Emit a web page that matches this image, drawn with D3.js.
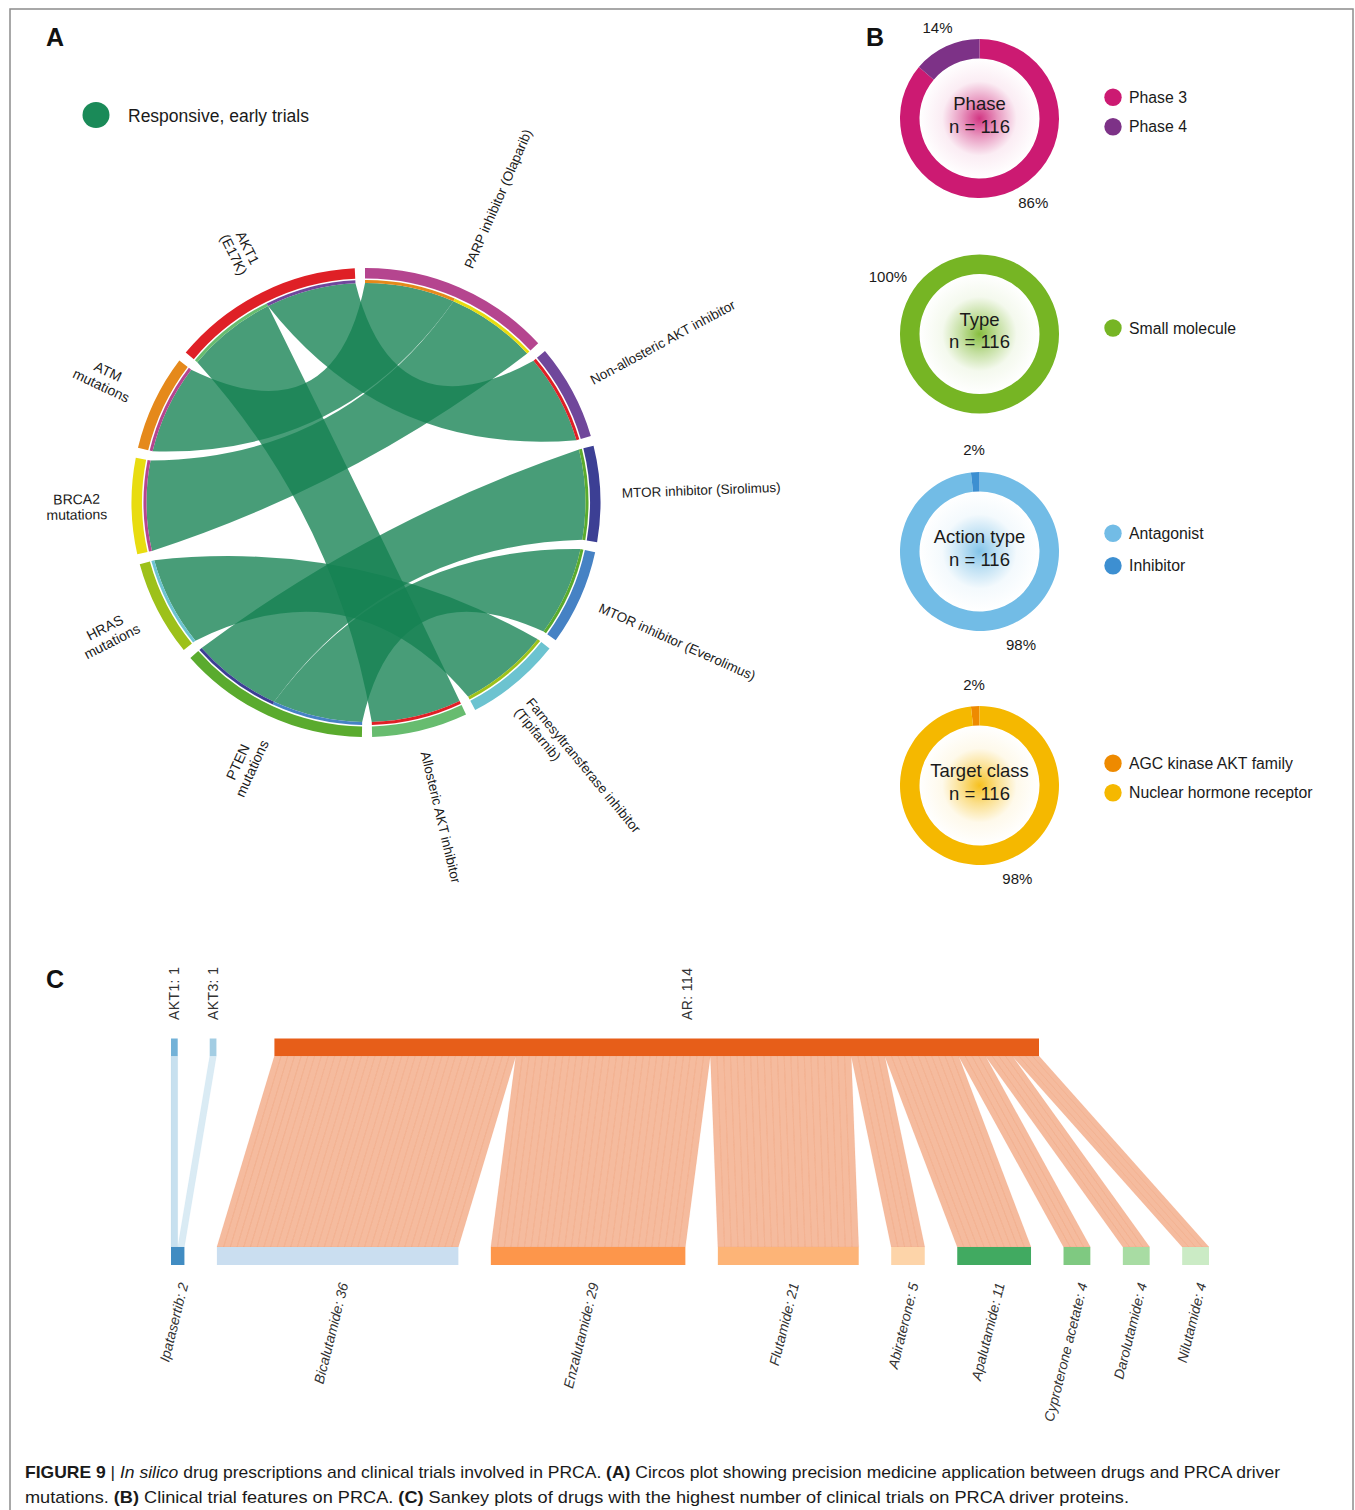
<!DOCTYPE html>
<html>
<head>
<meta charset="utf-8">
<title>Figure 9 – drug prescriptions and clinical trials in PRCA</title>
<script src="https://cdn.jsdelivr.net/npm/d3@7/dist/d3.min.js"></script>
<style>
  html, body { margin: 0; padding: 0; background: #fff; }
  svg { display: block; font-family: "Liberation Sans", Arial, Helvetica, sans-serif; }
</style>
</head>
<body>
<svg id="figure" width="1355" height="1510"></svg>
<script>
// ---------------- Panel A: drug ↔ driver-mutation circos ----------------
const drugs = [
  "PARP inhibitor (Olaparib)",
  "Non-allosteric AKT inhibitor",
  "MTOR inhibitor (Sirolimus)",
  "MTOR inhibitor (Everolimus)",
  "Farnesyltransferase inhibitor (Tipifarnib)",
  "Allosteric AKT inhibitor"
];
const mutations = ["PTEN mutations", "HRAS mutations", "BRCA2 mutations", "ATM mutations", "AKT1 (E17K)"];
const drugMutationPairs = [
  ["PARP inhibitor (Olaparib)", "ATM mutations"],
  ["PARP inhibitor (Olaparib)", "BRCA2 mutations"],
  ["Non-allosteric AKT inhibitor", "AKT1 (E17K)"],
  ["MTOR inhibitor (Sirolimus)", "PTEN mutations"],
  ["MTOR inhibitor (Everolimus)", "PTEN mutations"],
  ["Farnesyltransferase inhibitor (Tipifarnib)", "HRAS mutations"],
  ["Allosteric AKT inhibitor", "AKT1 (E17K)"]
];
const circosLegend = ["Responsive, early trials"];

// ---------------- Panel B: clinical trial features ----------------
const phaseLabels = ["Phase 3", "Phase 4"];
const phaseCounts = [100, 16];
const typeLabels = ["Small molecule"];
const typeCounts = [116];
const actionLabels = ["Antagonist", "Inhibitor"];
const actionCounts = [114, 2];
const targetLabels = ["AGC kinase AKT family", "Nuclear hormone receptor"];
const targetCounts = [2, 114];

// ---------------- Panel C: protein → drug trials (Sankey) ----------------
const proteins = ["AKT1", "AKT3", "AR"];
const sankeyDrugs = ["Ipatasertib", "Bicalutamide", "Enzalutamide", "Flutamide", "Abiraterone",
                     "Apalutamide", "Cyproterone acetate", "Darolutamide", "Nilutamide"];
const proteinDrugTrials = [
  ["AKT1", "Ipatasertib", 1],
  ["AKT3", "Ipatasertib", 1],
  ["AR", "Bicalutamide", 36],
  ["AR", "Enzalutamide", 29],
  ["AR", "Flutamide", 21],
  ["AR", "Abiraterone", 5],
  ["AR", "Apalutamide", 11],
  ["AR", "Cyproterone acetate", 4],
  ["AR", "Darolutamide", 4],
  ["AR", "Nilutamide", 4]
];

// ---------------- Styles ----------------
const drugColors = ["#b5458f", "#70479b", "#3c3f94", "#4682c4", "#6cc3d0", "#67bc6f"];
const mutationColors = ["#5aab2e", "#9dc11a", "#e8dc10", "#e5891b", "#df2026"];
const ribbonColor = "#148152";
const phaseColors = ["#cc1a72", "#7d3287"];
const typeColors = ["#76b524"];
const actionColors = ["#72bce6", "#3d8fd1"];
const targetColors = ["#ee8a00", "#f5b800"];
const sankeyColors = {
  "Ipatasertib": "#3182bd", "AKT1": "#6baed6", "AKT3": "#9ecae1", "Bicalutamide": "#c6dbef",
  "AR": "#e6550d", "Enzalutamide": "#fd8d3c", "Flutamide": "#fdae6b", "Abiraterone": "#fdd0a2",
  "Apalutamide": "#31a354", "Cyproterone acetate": "#74c476", "Darolutamide": "#a1d99b", "Nilutamide": "#c7e9c0"
};
const textColor = "#1a1a1a";

const svg = d3.select("#figure");
svg.append("rect").attr("width", 1355).attr("height", 1510).attr("fill", "#fff");
svg.append("rect").attr("x", 10).attr("y", 9).attr("width", 1343).attr("height", 1540)
  .attr("fill", "none").attr("stroke", "#8c8c8c").attr("stroke-width", 1.5);

function panelLetter(x, y, t) {
  svg.append("text").attr("x", x).attr("y", y).attr("font-size", 25).attr("font-weight", "bold")
    .attr("fill", "#111").text(t);
}
panelLetter(46, 46, "A");
panelLetter(866, 46, "B");
panelLetter(46, 988, "C");

// =====================================================================
// Panel A – circos
// =====================================================================
const deg = Math.PI / 180;
const A = { cx: 366, cy: 502.5, rOuter: 234.5, rInner: 224, stripOuter: 222.5, stripInner: 219.5,
            ribbonR: 219.5, bend: 0.36, padDeg: 2.5, startDeg: -0.25,
            drugLabelR: 256, mutLabelR: 259, lineH: 15.5 };

const nodesA = drugs.concat(mutations);
const colorA = drugColors.concat(mutationColors);
const partners = nodesA.map(() => []);
drugMutationPairs.forEach(([d, m]) => {
  const i = nodesA.indexOf(d), j = nodesA.indexOf(m);
  partners[i].push(j);
  partners[j].push(i);
});
// within each sector, partners further round the circle sit first
partners.forEach(p => p.sort((a, b) => b - a));

const totalUnits = d3.sum(partners, p => p.length);
const pad = A.padDeg * deg;
const angleOf = d3.scaleLinear().domain([0, totalUnits]).range([0, 2 * Math.PI - nodesA.length * pad]);
let cursor = A.startDeg * deg;
const groups = nodesA.map((name, i) => {
  const startAngle = cursor, endAngle = cursor + angleOf(partners[i].length);
  cursor = endAngle + pad;
  const slots = partners[i].map((j, s) => ({
    partner: j, startAngle: startAngle + angleOf(s), endAngle: startAngle + angleOf(s + 1)
  }));
  return { name, index: i, startAngle, endAngle, slots };
});

const gA = svg.append("g").attr("transform", `translate(${A.cx},${A.cy})`);

const ribbons = drugMutationPairs.map(([d, m]) => {
  const i = nodesA.indexOf(d), j = nodesA.indexOf(m);
  return {
    source: groups[i].slots.find(s => s.partner === j),
    target: groups[j].slots.find(s => s.partner === i)
  };
});

// ribbon whose borders are quadratic curves bent part-way toward the centre
function circosRibbon(d) {
  const r = A.ribbonR, k = A.bend;
  const pt = a => [r * Math.sin(a), -r * Math.cos(a)];
  const s0 = d.source.startAngle, s1 = d.source.endAngle;
  const t0 = d.target.startAngle, t1 = d.target.endAngle;
  const a = pt(s0), b = pt(s1), c = pt(t0), e = pt(t1);
  const p = d3.path();
  p.moveTo(a[0], a[1]);
  p.arc(0, 0, r, s0 - Math.PI / 2, s1 - Math.PI / 2);
  p.quadraticCurveTo(k * (b[0] + c[0]) / 2, k * (b[1] + c[1]) / 2, c[0], c[1]);
  p.arc(0, 0, r, t0 - Math.PI / 2, t1 - Math.PI / 2);
  p.quadraticCurveTo(k * (e[0] + a[0]) / 2, k * (e[1] + a[1]) / 2, a[0], a[1]);
  p.closePath();
  return p.toString();
}
gA.append("g").selectAll("path").data(ribbons).join("path")
  .attr("d", circosRibbon)
  .attr("fill", ribbonColor).attr("fill-opacity", 0.78);

const sectorArc = d3.arc().innerRadius(A.rInner).outerRadius(A.rOuter);
gA.append("g").selectAll("path").data(groups).join("path")
  .attr("d", sectorArc).attr("fill", d => colorA[d.index]);

const stripArc = d3.arc().innerRadius(A.stripInner).outerRadius(A.stripOuter);
gA.append("g").selectAll("path").data(groups.flatMap(g => g.slots)).join("path")
  .attr("d", stripArc).attr("fill", d => colorA[d.partner]);

function labelLines(name, isDrug) {
  if (isDrug) {
    const k = name.indexOf(" (");
    return (name.length > 32 && k > 0) ? [name.slice(0, k), name.slice(k + 1)] : [name];
  }
  const k = name.indexOf(" ");
  return [name.slice(0, k), name.slice(k + 1)];
}

groups.forEach(g => {
  const mid = (g.startAngle + g.endAngle) / 2;
  const midDeg = mid / deg;
  const isDrug = g.index < drugs.length;
  const fs = isDrug ? 13.5 : 14;
  const lines = labelLines(g.name, isDrug);
  const t = gA.append("text").attr("font-size", fs).attr("fill", textColor);
  lines.forEach(ln => t.append("tspan").attr("x", 0).attr("y", 0).text(ln));
  if (midDeg < 180) {
    t.attr("text-anchor", "start");
    t.selectAll("tspan").attr("dy", (d, i) => 0.35 * fs + i * A.lineH);
    const r = A.drugLabelR;
    t.attr("transform", `translate(${r * Math.sin(mid)},${-r * Math.cos(mid)}) rotate(${midDeg - 90})`);
  } else {
    t.attr("text-anchor", "middle");
    const w = d3.max(t.selectAll("tspan").nodes(), n => n.getComputedTextLength());
    const nL = lines.length;
    t.selectAll("tspan").attr("dy", (d, i) => 0.35 * fs + (i - (nL - 1) / 2) * A.lineH);
    const r = A.mutLabelR + w / 2;
    t.attr("transform", `translate(${r * Math.sin(mid)},${-r * Math.cos(mid)}) rotate(${midDeg + 90})`);
  }
});

// legend
svg.append("ellipse").attr("cx", 96).attr("cy", 115).attr("rx", 13.5).attr("ry", 13)
  .attr("fill", "#1a8a58");
svg.append("text").attr("x", 128).attr("y", 122).attr("font-size", 17.5).attr("fill", textColor)
  .text(circosLegend[0]);

// =====================================================================
// Panel B – donuts
// =====================================================================
const B = { cx: 979.5, cy: [118.5, 334, 551.5, 785.5], rInner: 60, rOuter: 79.5,
            legendX: 1113, legendTextX: 1129,
            legendOffset: [-6.5, -6, -2, -7.5], legendStep: [29.5, 30, 32.5, 29.5],
            pctAngles: [[147.5, null], [302], [156, null], [null, 158]],
            pctRadius: [100, 108, 102, 101] };
const donuts = [
  { title: "Phase", labels: phaseLabels, counts: phaseCounts, colors: phaseColors, main: 0 },
  { title: "Type", labels: typeLabels, counts: typeCounts, colors: typeColors, main: 0 },
  { title: "Action type", labels: actionLabels, counts: actionCounts, colors: actionColors, main: 0 },
  { title: "Target class", labels: targetLabels, counts: targetCounts, colors: targetColors, main: 1 }
];
const defs = svg.append("defs");
const pie = d3.pie();  // largest slice first, clockwise from 12 o'clock
const donutArc = d3.arc().innerRadius(B.rInner).outerRadius(B.rOuter);

donuts.forEach((dn, k) => {
  const cy = B.cy[k];
  const n = d3.sum(dn.counts);
  const g = svg.append("g").attr("transform", `translate(${B.cx},${cy})`);
  const gid = "glow" + k;
  const grad = defs.append("radialGradient").attr("id", gid);
  [[0, 0.88], [0.3, 0.45], [0.62, 0.08], [1, 0]].forEach(([o, a]) =>
    grad.append("stop").attr("offset", o).attr("stop-color", dn.colors[dn.main]).attr("stop-opacity", a));
  g.append("circle").attr("r", B.rInner).attr("fill", `url(#${gid})`);

  const arcs = pie(dn.counts);
  g.selectAll("path").data(arcs).join("path").attr("d", donutArc)
    .attr("fill", (d, i) => dn.colors[i]);

  arcs.forEach((a, i) => {
    const angDeg = B.pctAngles[k][i] != null ? B.pctAngles[k][i] : (a.startAngle + a.endAngle) / 2 / deg;
    const ang = angDeg * deg, r = B.pctRadius[k];
    g.append("text").attr("x", r * Math.sin(ang)).attr("y", -r * Math.cos(ang)).attr("dy", "0.35em")
      .attr("text-anchor", "middle").attr("font-size", 15).attr("fill", textColor)
      .text(Math.round(dn.counts[i] / n * 100) + "%");
  });

  g.append("text").attr("text-anchor", "middle").attr("y", -8.5).attr("font-size", 18.5)
    .attr("fill", textColor).text(dn.title);
  g.append("text").attr("text-anchor", "middle").attr("y", 14).attr("font-size", 18.5)
    .attr("fill", textColor).text("n = " + n);

  dn.labels.forEach((lab, i) => {
    const y = cy + B.legendOffset[k] + (i - (dn.labels.length - 1) / 2) * B.legendStep[k];
    svg.append("circle").attr("cx", B.legendX).attr("cy", y).attr("r", 8.7).attr("fill", dn.colors[i]);
    svg.append("text").attr("x", B.legendTextX).attr("y", y).attr("dy", "0.35em")
      .attr("font-size", 15.8).attr("fill", textColor).text(lab);
  });
});

// =====================================================================
// Panel C – Sankey (proteins on top, drugs below)
// =====================================================================
const C = { x0: 171, x1: 1209, gap: 32.5, topGaps: [32, 58], nodeH: 17.5, labelShift: { AR: 30 } };
const totalTrials = d3.sum(proteinDrugTrials, d => d[2]);
const unitPx = (C.x1 - C.x0 - (sankeyDrugs.length - 1) * C.gap) / totalTrials;
const widthScale = d3.scaleLinear().domain([0, totalTrials]).range([0, totalTrials * unitPx]);
const levelY = d3.scalePoint().domain(["protein", "drug"]).range([1038.5, 1247]);

function placeNodes(names, role, gaps) {
  let x = C.x0;
  return names.map((name, i) => {
    const value = d3.sum(proteinDrugTrials.filter(t => t[role] === name), t => t[2]);
    const node = { name, value, x0: x, x1: x + widthScale(value) };
    x = node.x1 + (gaps ? gaps[i] : C.gap);
    return node;
  });
}
const topNodes = placeNodes(proteins, 0, C.topGaps);
const bottomNodes = placeNodes(sankeyDrugs, 1, null);
const byName = {};
topNodes.concat(bottomNodes).forEach(n => { byName[n.name] = n; n.cursor = n.x0; });

const links = proteinDrugTrials.map(([s, t, v]) => ({ source: byName[s], target: byName[t], value: v }));
// outgoing links follow drug order; incoming links follow protein order
links.slice().sort((a, b) => sankeyDrugs.indexOf(a.target.name) - sankeyDrugs.indexOf(b.target.name))
  .forEach(l => { l.sx = l.source.cursor; l.source.cursor += widthScale(l.value); });
links.slice().sort((a, b) => proteins.indexOf(a.source.name) - proteins.indexOf(b.source.name))
  .forEach(l => { l.tx = l.target.cursor; l.target.cursor += widthScale(l.value); });

// one thin band per trial
const trialBands = links.flatMap(l => d3.range(l.value).map(u => ({
  color: sankeyColors[l.source.name],
  opacity: l.source.name === "AR" ? 0.4 : 0.38,
  sx0: l.sx + widthScale(u), sx1: l.sx + widthScale(u + 1),
  tx0: l.tx + widthScale(u), tx1: l.tx + widthScale(u + 1)
})));
const yTopBottom = levelY("protein") + C.nodeH;
const yDrugTop = levelY("drug");
const bandLine = d3.line().curve(d3.curveLinearClosed);
const gC = svg.append("g");
gC.append("g").selectAll("path").data(trialBands).join("path")
  .attr("d", b => bandLine([[b.sx0, yTopBottom], [b.sx1, yTopBottom], [b.tx1, yDrugTop], [b.tx0, yDrugTop]]))
  .attr("fill", b => b.color).attr("fill-opacity", b => b.opacity)
  .attr("stroke", b => b.color).attr("stroke-opacity", 0.12).attr("stroke-width", 0.6);

gC.append("g").selectAll("rect").data(topNodes).join("rect")
  .attr("x", d => d.x0).attr("width", d => d.x1 - d.x0)
  .attr("y", levelY("protein")).attr("height", C.nodeH)
  .attr("fill", d => sankeyColors[d.name]).attr("fill-opacity", 0.95);
gC.append("g").selectAll("rect").data(bottomNodes).join("rect")
  .attr("x", d => d.x0).attr("width", d => d.x1 - d.x0)
  .attr("y", levelY("drug")).attr("height", C.nodeH + 0.5)
  .attr("fill", d => sankeyColors[d.name]).attr("fill-opacity", 0.92);

gC.append("g").selectAll("text").data(topNodes).join("text")
  .attr("transform", d => `translate(${(d.x0 + d.x1) / 2 + (C.labelShift[d.name] || 0)},1020) rotate(-90)`)
  .attr("dy", "0.35em").attr("font-size", 14).attr("fill", "#333")
  .attr("letter-spacing", 0.4)
  .text(d => `${d.name}: ${d.value}`);
gC.append("g").selectAll("text").data(bottomNodes).join("text")
  .attr("transform", d => `translate(${(d.x0 + d.x1) / 2 + 6},1283) rotate(-76)`)
  .attr("dy", "0.35em").attr("text-anchor", "end").attr("font-size", 14)
  .attr("font-style", "italic").attr("fill", "#333")
  .text(d => `${d.name}: ${d.value}`);

// =====================================================================
// Caption
// =====================================================================
function captionLine(y, len, parts) {
  const t = svg.append("text").attr("x", 25).attr("y", y).attr("font-size", 17).attr("fill", textColor)
    .attr("textLength", len).attr("lengthAdjust", "spacingAndGlyphs");
  parts.forEach(([s, style]) => {
    const ts = t.append("tspan").text(s);
    if (style === "b") ts.attr("font-weight", "bold");
    if (style === "i") ts.attr("font-style", "italic");
  });
}
captionLine(1478, 1255, [
  ["FIGURE 9", "b"], [" | ", ""], ["In silico", "i"],
  [" drug prescriptions and clinical trials involved in PRCA. ", ""], ["(A)", "b"],
  [" Circos plot showing precision medicine application between drugs and PRCA driver", ""]
]);
captionLine(1503, 1104, [
  ["mutations. ", ""], ["(B)", "b"], [" Clinical trial features on PRCA. ", ""], ["(C)", "b"],
  [" Sankey plots of drugs with the highest number of clinical trials on PRCA driver proteins.", ""]
]);
</script>
</body>
</html>
